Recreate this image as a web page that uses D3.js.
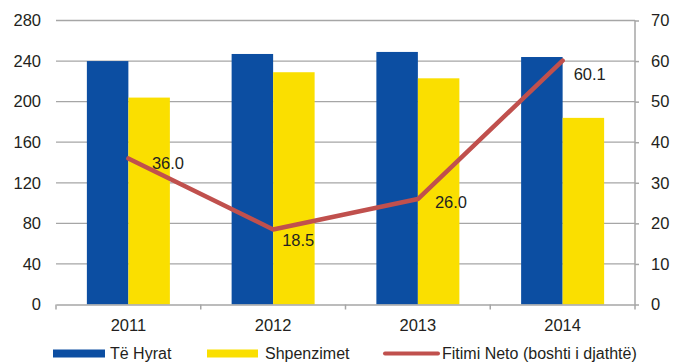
<!DOCTYPE html>
<html><head><meta charset="utf-8">
<script src="https://cdn.jsdelivr.net/npm/d3@7"></script>
<style>body{margin:0;background:#fff}text{font-family:"Liberation Sans",Arial,sans-serif;fill:#231f20}</style>
</head><body><svg id="c" width="674" height="362"></svg>
<script>
const categories = ["2011","2012","2013","2014"];
const hyrat = [240, 247, 249, 244];
const shpenzimet = [204, 229, 223, 184];
const fitimi = [36.0, 18.5, 26.0, 60.1];
const leftTicks = [0,40,80,120,160,200,240,280];
const rightTicks = [0,10,20,30,40,50,60,70];
const seriesNames = ["Të Hyrat","Shpenzimet","Fitimi Neto (boshti i djathtë)"];
const colors = ["#0c4ea2","#fadf00","#c0504d"];

const svg = d3.select("#c");
const L=56, R=635, T=20.5, B=304.5;
const FS = 16.5;
const x = d3.scaleBand().domain(categories).range([L,R]);
const yL = d3.scaleLinear().domain([0,280]).range([B,T]);
const yR = d3.scaleLinear().domain([0,70]).range([B,T]);
const barW = 41.5;

// gridlines
svg.append("g").selectAll("line").data(leftTicks.slice(1)).join("line")
  .attr("x1",L).attr("x2",R).attr("y1",d=>yL(d)).attr("y2",d=>yL(d))
  .attr("stroke","#a6a6a6").attr("stroke-width",1.3);

// bars
const g = svg.append("g");
g.selectAll(".h").data(hyrat).join("rect")
  .attr("x",(d,i)=>x(categories[i])+x.bandwidth()/2-barW).attr("width",barW)
  .attr("y",d=>yL(d)).attr("height",d=>B-yL(d)).attr("fill",colors[0]);
g.selectAll(".s").data(shpenzimet).join("rect")
  .attr("x",(d,i)=>x(categories[i])+x.bandwidth()/2).attr("width",barW)
  .attr("y",d=>yL(d)).attr("height",d=>B-yL(d)).attr("fill",colors[1]);

// bottom axis
const axB = d3.axisBottom(x).tickSize(0).tickPadding(14.5);
const gb = svg.append("g").attr("transform",`translate(0,${B})`).call(axB);
gb.select(".domain").attr("stroke","#a6a6a6").attr("stroke-width",1.5);
gb.selectAll("text").attr("font-size",FS).style("font-family","Liberation Sans, Arial");
const bounds = categories.map(c=>x(c)).concat([R]);
svg.append("g").selectAll("line").data(bounds).join("line")
  .attr("x1",d=>d).attr("x2",d=>d).attr("y1",B).attr("y2",B+5)
  .attr("stroke","#a6a6a6").attr("stroke-width",1.5);

// left axis
const axL = d3.axisLeft(yL).tickValues(leftTicks).tickSize(0).tickPadding(15);
const gl = svg.append("g").attr("transform",`translate(${L},0)`).call(axL);
gl.select(".domain").remove();
gl.selectAll("text").attr("font-size",FS).style("font-family","Liberation Sans, Arial");

// right axis
const axR = d3.axisRight(yR).tickValues(rightTicks).tickSize(4).tickPadding(12);
const gr = svg.append("g").attr("transform",`translate(${R},0)`).call(axR);
gr.select(".domain").attr("stroke","#a6a6a6").attr("stroke-width",1.5).attr("d",`M0,${T}V${B}`);
gr.selectAll("line").attr("stroke","#a6a6a6").attr("stroke-width",1.5);
gr.selectAll("text").attr("font-size",FS).style("font-family","Liberation Sans, Arial");

// line
const line = d3.line().x((d,i)=>x(categories[i])+x.bandwidth()/2).y(d=>yR(d));
svg.append("path").datum(fitimi).attr("d",line).attr("fill","none")
  .attr("stroke",colors[2]).attr("stroke-width",4.5).attr("stroke-linejoin","round").attr("stroke-linecap","round");

// labels
const off = [[23.5,11],[9,17],[17,9],[11,19]];
svg.append("g").selectAll("text").data(fitimi).join("text")
  .attr("x",(d,i)=>x(categories[i])+x.bandwidth()/2+off[i][0])
  .attr("y",(d,i)=>yR(d)+off[i][1])
  .attr("font-size",FS).text(d=>d.toFixed(1));

// legend
const lg = svg.append("g");
lg.append("rect").attr("x",53).attr("y",349.5).attr("width",52).attr("height",8).attr("fill",colors[0]);
lg.append("text").attr("x",110).attr("y",358.5).attr("font-size",16).text(seriesNames[0]);
lg.append("rect").attr("x",207).attr("y",349.5).attr("width",51).attr("height",8).attr("fill",colors[1]);
lg.append("text").attr("x",265).attr("y",358.5).attr("font-size",16).text(seriesNames[1]);
lg.append("line").attr("x1",385).attr("x2",438).attr("y1",353.5).attr("y2",353.5)
  .attr("stroke",colors[2]).attr("stroke-width",4).attr("stroke-linecap","round");
lg.append("text").attr("x",442).attr("y",358.5).attr("font-size",16).text(seriesNames[2]);
</script></body></html>
